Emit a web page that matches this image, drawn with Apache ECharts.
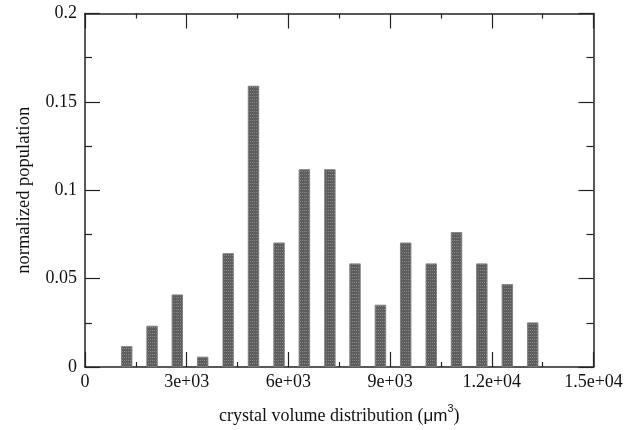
<!DOCTYPE html>
<html>
<head>
<meta charset="utf-8">
<script src="https://cdn.jsdelivr.net/npm/echarts@6/dist/echarts.min.js"></script>
<style>html,body{margin:0;padding:0;background:#fff}#c{width:635px;height:430px}</style>
</head>
<body>
<div id="c"></div>
<script>
// bin centres (crystal volume, um^3)
var binCenters = [1229, 1979, 2724, 3471, 4224, 4971, 5724, 6471, 7224, 7965, 8715, 9459, 10215, 10959, 11706, 12459, 13206];
// normalized population
var population = [0.0117, 0.0232, 0.0409, 0.0057, 0.0643, 0.159, 0.0703, 0.1118, 0.1118, 0.0585, 0.0351, 0.0703, 0.0585, 0.0762, 0.0585, 0.0468, 0.0251];
var xTickLabels = {0: '0', 3000: '3e+03', 6000: '6e+03', 9000: '9e+03', 12000: '1.2e+04', 15000: '1.5e+04'};
var yTickLabels = {0: '0', 0.05: '0.05', 0.1: '0.1', 0.15: '0.15', 0.2: '0.2'};

var serif = 'Liberation Serif';
var lineStyle = {color: '#222', width: 1.5};
function xLabel(v){ var k = Math.round(v); return xTickLabels[k] !== undefined ? xTickLabels[k] : ''; }
function yLabel(v){ var k = Math.round(v*1000)/1000; return yTickLabels[k] !== undefined ? yTickLabels[k] : ''; }

var commonX = {
  type: 'value', min: 0, max: 15000, interval: 3000,
  axisLine: {show: true, onZero: false, lineStyle: lineStyle},
  axisTick: {show: true, inside: true, length: 15, lineStyle: {color: '#222', width: 1.2}},
  minorTick: {show: true, splitNumber: 2, length: 5, lineStyle: {color: '#222', width: 1.2}},
  splitLine: {show: false}, minorSplitLine: {show: false}
};
var commonY = {
  type: 'value', min: 0, max: 0.2, interval: 0.05,
  axisLine: {show: true, onZero: false, lineStyle: lineStyle},
  axisTick: {show: true, inside: true, length: 15, lineStyle: {color: '#222', width: 1.2}},
  minorTick: {show: true, splitNumber: 2, length: 7, lineStyle: {color: '#222', width: 1.2}},
  splitLine: {show: false}, minorSplitLine: {show: false}
};

var data = binCenters.map(function(x, i){ return [x, population[i]]; });

var chart = echarts.init(document.getElementById('c'), null, {renderer: 'canvas'});
chart.setOption({
  animation: false,
  backgroundColor: '#fff',
  grid: {left: 85, top: 13.5, right: 41.5, bottom: 62, containLabel: false},
  xAxis: [
    Object.assign({}, commonX, {
      position: 'bottom',
      name: '{t|crystal volume distribution (}{m|\u03bcm}{s|3}{t|)}',
      nameLocation: 'middle', nameGap: 36,
      nameTextStyle: {rich: {
        t: {fontFamily: serif, fontSize: 18, color: '#111', verticalAlign: 'bottom', lineHeight: 22},
        m: {fontFamily: 'Liberation Sans', fontSize: 17, color: '#111', verticalAlign: 'bottom', lineHeight: 22},
        s: {fontFamily: 'Liberation Sans', fontSize: 11, color: '#111', verticalAlign: 'top', lineHeight: 22, padding: [0,0,10,0]}
      }},
      axisLabel: {show: true, formatter: xLabel, fontFamily: serif, fontSize: 18, color: '#111', margin: 6}
    }),
    Object.assign({}, commonX, {position: 'top', axisLabel: {show: false}})
  ],
  yAxis: [
    Object.assign({}, commonY, {
      position: 'left',
      name: 'normalized population', nameLocation: 'middle', nameGap: 51,
      nameTextStyle: {fontFamily: serif, fontSize: 18.5, color: '#111'},
      axisLabel: {show: true, formatter: yLabel, fontFamily: serif, fontSize: 18, color: '#111', margin: 8}
    }),
    Object.assign({}, commonY, {position: 'right', axisLabel: {show: false}})
  ],
  series: [{
    type: 'bar', xAxisIndex: 0, yAxisIndex: 0,
    data: data, barWidth: 11,
    itemStyle: {
      color: '#5e5e5e', borderColor: '#7a7a7a', borderWidth: 0.6,
      decal: {symbol: 'rect', symbolSize: 1, color: 'rgba(170,170,170,0.55)', dashArrayX: [1, 1], dashArrayY: [1, 2], rotation: 0}
    }
  }]
});
</script>
</body>
</html>
